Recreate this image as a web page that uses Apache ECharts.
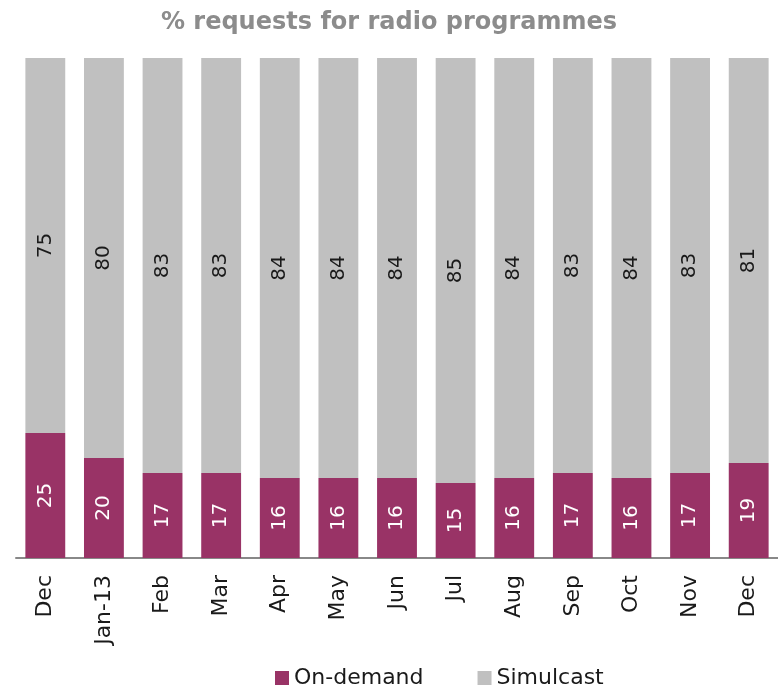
<!DOCTYPE html>
<html>
<head>
<meta charset="utf-8">
<script src="https://cdn.jsdelivr.net/npm/echarts@6/dist/echarts.min.js"></script>
<style>
  html, body { margin: 0; padding: 0; background: #fff; }
  #chart { width: 778px; height: 686px; }
</style>
</head>
<body>
<div id="chart"></div>
<script>
// Monthly share of radio programme requests, on-demand vs simulcast (%)
const months = ['Dec', 'Jan-13', 'Feb', 'Mar', 'Apr', 'May', 'Jun', 'Jul', 'Aug', 'Sep', 'Oct', 'Nov', 'Dec'];
const onDemand = [25, 20, 17, 17, 16, 16, 16, 15, 16, 17, 16, 17, 19];
const simulcast = [75, 80, 83, 83, 84, 84, 84, 85, 84, 83, 84, 83, 81];

const FONT = 'DejaVu Sans';
const chart = echarts.init(document.getElementById('chart'));

const labelCommon = {
  show: true,
  position: 'inside',
  rotate: 90,
  fontFamily: FONT,
  fontSize: 20
};

chart.setOption({
  animation: false,
  title: {
    text: '% requests for radio programmes',
    left: 'center',
    top: 6,
    textStyle: { fontFamily: FONT, fontSize: 24, fontWeight: 'bold', color: '#8c8c8c' }
  },
  legend: {
    top: 662,
    left: 270,
    itemWidth: 14,
    itemHeight: 14,
    itemGap: 54,
    icon: 'rect',
    textStyle: { fontFamily: FONT, fontSize: 22, color: '#1a1a1a' },
    data: ['On-demand', 'Simulcast']
  },
  grid: { left: 16, right: 0, top: 58, bottom: 128, containLabel: false },
  xAxis: {
    type: 'category',
    data: months,
    axisLine: { lineStyle: { color: '#888', width: 2 } },
    axisTick: { show: false },
    axisLabel: { rotate: 90, margin: 17, fontFamily: FONT, fontSize: 22, color: '#1a1a1a', interval: 0 }
  },
  yAxis: {
    type: 'value',
    min: 0,
    max: 100,
    show: false,
    splitLine: { show: false }
  },
  series: [
    {
      name: 'On-demand',
      type: 'bar',
      stack: 'total',
      barWidth: '68%',
      data: onDemand,
      itemStyle: { color: '#993366' },
      label: Object.assign({ color: '#fff' }, labelCommon)
    },
    {
      name: 'Simulcast',
      type: 'bar',
      stack: 'total',
      barWidth: '68%',
      data: simulcast,
      itemStyle: { color: '#c0c0c0' },
      label: Object.assign({ color: '#1a1a1a' }, labelCommon)
    }
  ]
});
</script>
</body>
</html>
